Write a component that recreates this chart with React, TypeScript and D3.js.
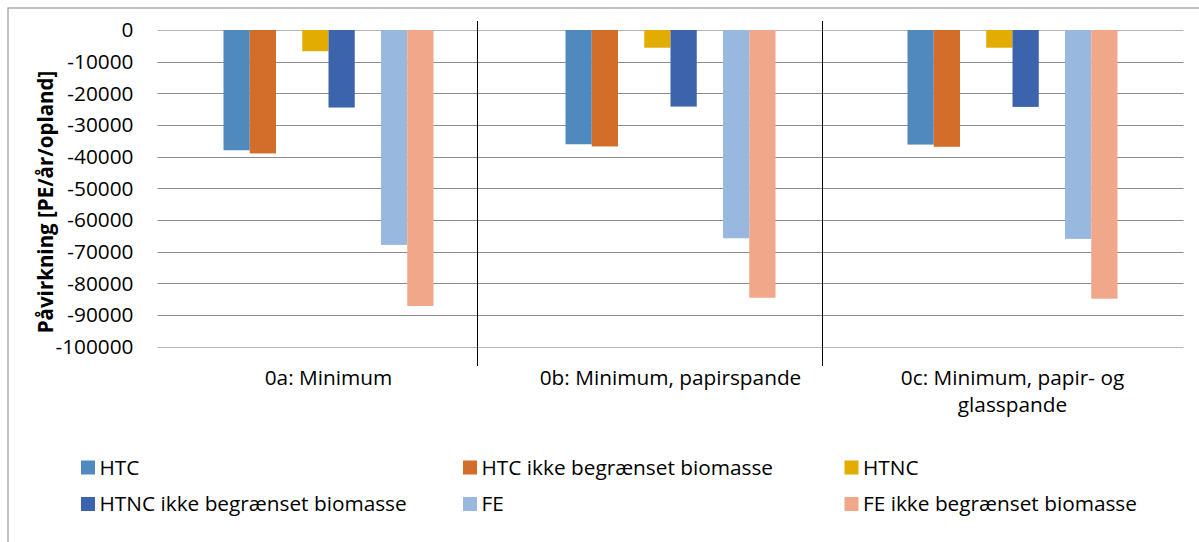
import * as React from "react";
import { scaleBand, scaleLinear, range } from "d3";

const categories = ["0a: Minimum", "0b: Minimum, papirspande", "0c: Minimum, papir- og glasspande"];
const categoryLines = [["0a: Minimum"], ["0b: Minimum, papirspande"], ["0c: Minimum, papir- og", "glasspande"]];

const seriesNames = [
    "HTC",
    "HTC ikke begrænset biomasse",
    "HTNC",
    "HTNC ikke begrænset biomasse",
    "FE",
    "FE ikke begrænset biomasse",
];
const seriesColors = ["#4F89BD", "#D36E2A", "#E2AC00", "#3C64AD", "#98B8DF", "#F0A78A"];

// one list per series, one value per category
const htc = [-38000, -36100, -36200];
const htcIkke = [-39000, -36800, -36900];
const htnc = [-6700, -5600, -5600];
const htncIkke = [-24500, -24200, -24300];
const fe = [-67900, -65800, -66000];
const feIkke = [-87200, -84600, -84900];
const seriesValues = [htc, htcIkke, htnc, htncIkke, fe, feIkke];

// slot order inside a category (two empty slots between the pairs)
const slotOrder = [seriesNames[0], seriesNames[1], "gap1", seriesNames[2], seriesNames[3], "gap2", seriesNames[4], seriesNames[5]];

const yTicks = range(0, -100001, -10000);

const W = 1199, H = 542;
const plot = {left: 157.5, right: 1183.5, top: 30, bottom: 346.5};
const font = "'Open Sans', 'Noto Sans', sans-serif";
const fs = 20.8;

const App: React.FC = () => {
    const x = scaleBand<string>().domain(categories).range([plot.left, plot.right]).padding(0);
    const bw = x.bandwidth();
    const inner = scaleBand<string>().domain(slotOrder).range([bw * 0.193, bw * 0.807]).padding(0);
    const y = scaleLinear().domain([0, -100000]).range([plot.top, plot.bottom]);
    const sepOffset = [22.5, 19.8];

    return (
        <svg width={W} height={H} style={{position: "absolute", left: 0, top: 0, background: "#fff"}} fontFamily={font}>
            <rect x={8} y={8} width={W + 10} height={H + 10} fill="#fff" stroke="#9a9a9a" strokeWidth={1.2}/>

            {yTicks.map(t => (
                <g key={t}>
                    <line x1={plot.left} x2={plot.right} y1={Math.round(y(t)) + 0.5} y2={Math.round(y(t)) + 0.5}
                          stroke={t === 0 || t === -100000 ? "#b5b5b5" : "#8c8c8c"} strokeWidth={1}/>
                    <text x={133.5} y={y(t)} dy="0.36em" textAnchor="end" fontSize={fs} fill="#000">{t}</text>
                </g>
            ))}

            {categories.slice(1).map((c, i) => {
                const xx = Math.round((x(c) as number) - sepOffset[i]) + 0.5;
                return <line key={c} x1={xx} x2={xx} y1={21} y2={366} stroke="#000" strokeWidth={1}/>;
            })}

            {seriesNames.map((s, si) => (
                <g key={s} fill={seriesColors[si]}>
                    {categories.map((c, ci) => {
                        const v = seriesValues[si][ci];
                        return <rect key={c} x={(x(c) as number) + (inner(s) as number)} y={y(0)}
                                     width={inner.bandwidth()} height={y(v) - y(0)}/>;
                    })}
                </g>
            ))}

            {categories.map((c, ci) => (
                <text key={c} x={(x(c) as number) + bw / 2} y={385} textAnchor="middle" fontSize={fs} fill="#000">
                    {categoryLines[ci].map((l, li) => (
                        <tspan key={li} x={(x(c) as number) + bw / 2} dy={li === 0 ? 0 : 26.5}>{l}</tspan>
                    ))}
                </text>
            ))}

            <text transform="translate(53,202) rotate(-90)" textAnchor="middle" fontSize={20.5} fontWeight="bold" fill="#000">
                Påvirkning [PE/år/opland]
            </text>

            {seriesNames.map((s, i) => {
                const col = i % 3, row = Math.floor(i / 3);
                const lx = [81, 463, 844.5][col];
                const top = [460.5, 497][row];
                return (
                    <g key={s}>
                        <rect x={lx} y={top} width={14} height={14} fill={seriesColors[i]}/>
                        <text x={lx + 18.5} y={top + 14} fontSize={fs} fill="#000">{s}</text>
                    </g>
                );
            })}
        </svg>
    );
};

export default App;
